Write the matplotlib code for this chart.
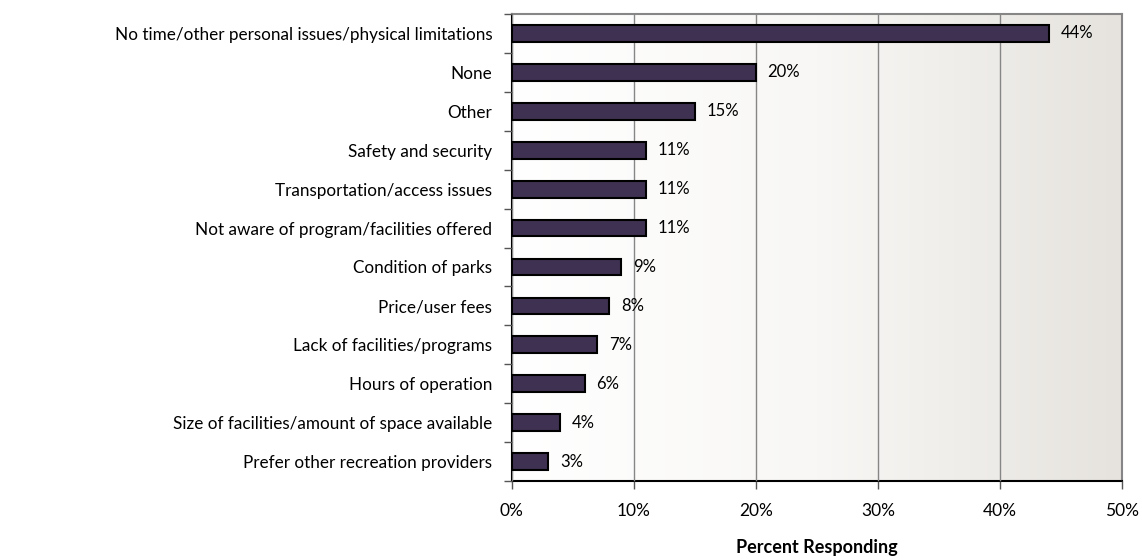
import numpy as np
import matplotlib.pyplot as plt
from matplotlib.colors import LinearSegmentedColormap

# Data
categories = ["No time/other personal issues/physical limitations", "None", "Other",
              "Safety and security", "Transportation/access issues",
              "Not aware of program/facilities offered", "Condition of parks",
              "Price/user fees", "Lack of facilities/programs", "Hours of operation",
              "Size of facilities/amount of space available",
              "Prefer other recreation providers"]
values = [44, 20, 15, 11, 11, 11, 9, 8, 7, 6, 4, 3]
xticks = [0, 10, 20, 30, 40, 50]

plt.rcParams['font.family'] = ['Lato', 'DejaVu Sans']

fig = plt.figure(figsize=(11.42, 5.6), dpi=100)
ax = fig.add_axes([0.448, 0.141, 0.5345, 0.834])

n = len(categories)
ypos = np.arange(n)[::-1]

# background gradient
cmap = LinearSegmentedColormap.from_list("bg", ["#ffffff", "#f8f7f5", "#e6e3de"])
grad = np.linspace(0, 1, 256).reshape(1, -1)
ax.imshow(grad, extent=[0, 50, -0.5, n - 0.5], aspect='auto', cmap=cmap, zorder=0)

ax.barh(ypos, values, height=0.43, color="#3f3151", edgecolor="black", linewidth=1.5, zorder=3)
for y, v in zip(ypos, values):
    ax.text(v + 0.95, y, f"{v}%", va='center', ha='left', fontsize=12, zorder=4)

ax.set_xlim(0, 50)
ax.set_ylim(-0.5, n - 0.5)
ax.set_xticks(xticks)
ax.set_xticklabels([f"{t}%" for t in xticks], fontsize=12.5)
ax.xaxis.grid(True, color="#868686", linewidth=1, zorder=1)
ax.set_axisbelow(False)
for gl in ax.get_xgridlines():
    gl.set_zorder(1)

ax.set_yticks(ypos)
ax.set_yticklabels(categories, fontsize=12.3)
ax.set_yticks(np.arange(-0.5, n, 1), minor=True)
ax.tick_params(axis='y', which='major', length=0, pad=14)
ax.tick_params(axis='y', which='minor', length=6, width=1, color='#555555')
ax.tick_params(axis='x', length=6, width=1, color='#555555', pad=10)

ax.spines['left'].set_color('black')
ax.spines['bottom'].set_color('black')
ax.spines['left'].set_linewidth(1.5)
ax.spines['bottom'].set_linewidth(1.5)
ax.spines['top'].set_color('#868686')
ax.spines['right'].set_color('#868686')
ax.spines['top'].set_linewidth(1.5)
ax.spines['right'].set_linewidth(1.5)

ax.set_xlabel("Percent Responding", fontsize=13, fontweight='bold', labelpad=14)

fig.savefig("out.png", dpi=100)
